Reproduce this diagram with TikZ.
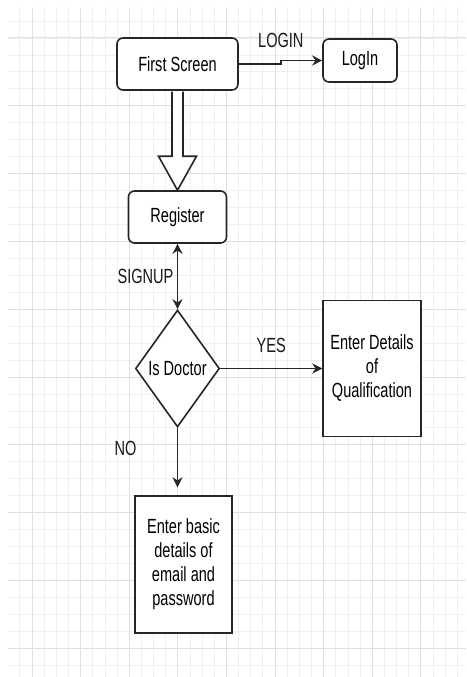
\documentclass[tikz,border=0pt]{standalone}
\usepackage{fontspec}
\setmainfont{Liberation Sans}[FakeStretch=0.71]
\usetikzlibrary{shapes.geometric, arrows.meta}
\tikzstyle{screen} = [rectangle, rounded corners=6pt, minimum width=98pt, minimum height=52pt, text centered, draw=black!85, line width=1.6pt, fill=white]
\tikzstyle{process} = [rectangle, minimum width=98pt, minimum height=136pt, align=center, draw=black!85, line width=1.4pt, fill=white]
\tikzstyle{decision} = [diamond, minimum width=84pt, minimum height=117pt, inner sep=0pt, text centered, draw=black!85, line width=1.6pt, fill=white]
\tikzstyle{arrow} = [line width=1.5pt, draw=black!85, -{Stealth[length=10pt,width=10pt]}]
\tikzstyle{twoway} = [line width=1.5pt, draw=black!85, {Stealth[length=10pt,width=10pt]}-{Stealth[length=10pt,width=10pt]}]
\tikzstyle{hollow} = [line width=1.6pt, draw=black!85, fill=white, line join=miter]
\tikzstyle{tag} = [text=black!90]
\tikzstyle{minorline} = [draw=black!6, line width=0.8pt]
\tikzstyle{majorline} = [draw=black!12, line width=1pt]

\begin{document}
\begin{tikzpicture}[x=1pt, y=-1pt, font=\fontsize{20.5}{24}\selectfont]
        % paper and grid
        \useasboundingbox (0,0) rectangle (466,677);
        \fill[white] (0,0) rectangle (466,677);
        \foreach \i in {1,...,37} {
            \pgfmathsetmacro{\gx}{7.7+12.15*\i}
            \draw[minorline] (\gx,8) -- (\gx,677);
        }
        \foreach \j in {1,...,39} {
            \pgfmathsetmacro{\gy}{4.1+16.95*\j}
            \draw[minorline] (8,\gy) -- (466,\gy);
        }
        \foreach \i in {2,6,...,34} {
            \pgfmathsetmacro{\gx}{7.7+12.15*\i}
            \draw[majorline] (\gx,8) -- (\gx,677);
        }
        \foreach \j in {2,6,...,38} {
            \pgfmathsetmacro{\gy}{4.1+16.95*\j}
            \draw[majorline] (8,\gy) -- (466,\gy);
        }

        \node (first) [screen, minimum width=121pt] at (177.5,64) {First Screen};
        \node (login) [screen, minimum width=74pt, minimum height=43pt] at (360,60.5) {LogIn};
        \node (register) [screen] at (177.5,217) {Register};
        \node (doctor) [decision] at (177.5,368.5) {Is Doctor};
        \node (qualification) [process] at (372,368.5) {Enter Details\\of\\Qualification};
        \node (basic) [process, minimum width=97pt, minimum height=137pt] at (183.5,564.5) {Enter basic\\details of\\email and\\password};

        \coordinate (headbase) at ([yshift=34pt]register.north);
        \coordinate (shaftleft) at ([xshift=-5.5pt, yshift=-0.8pt]first.south);
        \coordinate (shaftright) at ([xshift=5.5pt, yshift=-0.8pt]first.south);

        \draw [arrow] (first.east) -- ++(42pt,0) node (lbllogin) [tag, above=12pt] {LOGIN} |- (login.west);
        \draw [hollow] (shaftleft) -- (shaftleft |- headbase) -- ([xshift=-19pt]headbase) -- (register.north) -- ([xshift=19pt]headbase) -- (shaftright |- headbase) -- (shaftright);
        \draw [twoway] (register) -- node (lblsignup) [tag, left=0pt] {SIGNUP} (doctor);
        \draw [arrow] (doctor) -- node (lblyes) [tag, above=12pt] {YES} (qualification);
        \draw [arrow, shorten >=8pt] (doctor) -- node (lblno) [tag, pos=0.3, left=37pt] {NO} (doctor |- basic.north);
    \end{tikzpicture}
\end{document}
